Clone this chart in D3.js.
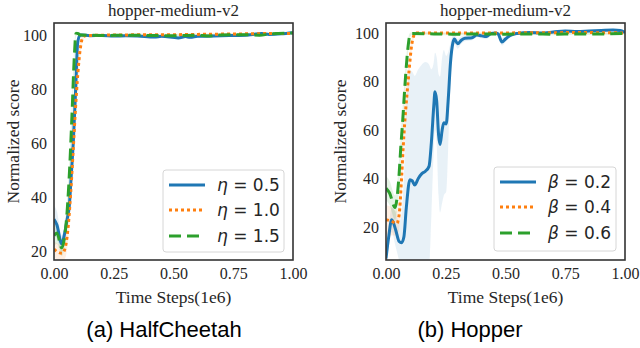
<!DOCTYPE html>
<html>
<head>
<meta charset="utf-8">
<script src="https://cdn.jsdelivr.net/npm/d3@7"></script>
<style>
  body { margin: 0; background: #fff; }
  svg { display: block; }
</style>
</head>
<body>
<script>
// ---- data ----
var xTicks = [0, 0.25, 0.5, 0.75, 1.0];
var yTicks = [20, 40, 60, 80, 100];
var panelTitles = ['hopper-medium-v2', 'hopper-medium-v2'];
var captions = ['(a) HalfCheetah', '(b) Hopper'];
var legendA = ['0.5', '1.0', '1.5'];
var legendB = ['0.2', '0.4', '0.6'];

// (a) eta = 0.5
var a1T = [0, 0.012, 0.032, 0.045, 0.055, 0.064, 0.072, 0.081, 0.091, 0.099, 0.108, 0.115, 0.15, 0.2, 0.25, 0.3, 0.35, 0.42, 0.45, 0.52, 0.55, 0.57, 0.6, 0.7, 0.8, 0.87, 0.9, 0.95, 1.0];
var a1Y = [32, 30, 23, 27, 32, 37, 48, 61, 81, 97, 99.8, 100, 99.7, 99.8, 99.6, 99.7, 99.6, 99.2, 99.5, 98.9, 99.4, 99.1, 99.5, 99.7, 99.9, 100.5, 100.2, 100.4, 100.8];
var a1S = [5, 5, 3, 3, 3, 3, 3, 3, 3, 2, 1, 0.5, 0.5, 0.5, 0.5, 0.5, 0.5, 0.5, 0.5, 0.5, 0.5, 0.5, 0.5, 0.5, 0.5, 0.6, 0.5, 0.5, 0.5];
// (a) eta = 1.0
var a2T = [0, 0.015, 0.035, 0.048, 0.06, 0.07, 0.08, 0.09, 0.1, 0.11, 0.12, 0.13, 0.2, 0.3, 0.4, 0.5, 0.6, 0.7, 0.8, 0.9, 1.0];
var a2Y = [21, 20, 19.5, 22, 30, 42, 57, 73, 86, 95, 99, 99.7, 99.9, 100, 100.1, 100.1, 100.2, 100.3, 100.4, 100.5, 100.5];
var a2S = [3, 3, 3, 4, 5, 6, 6, 6, 5, 3, 1, 0.5, 0.4, 0.4, 0.4, 0.4, 0.4, 0.4, 0.4, 0.4, 0.4];
// (a) eta = 1.5
var a3T = [0, 0.012, 0.032, 0.045, 0.055, 0.065, 0.075, 0.085, 0.092, 0.1, 0.11, 0.2, 0.3, 0.4, 0.5, 0.6, 0.64, 0.7, 0.8, 0.86, 0.9, 1.0];
var a3Y = [26, 27, 21.5, 26, 35, 50, 70, 92, 100.5, 100.5, 100, 99.8, 99.9, 99.8, 99.7, 99.9, 99.6, 100, 100.1, 99.9, 100.3, 100.7];
var a3S = [4, 4, 3, 4, 5, 5, 5, 4, 1, 0.6, 0.5, 0.4, 0.4, 0.4, 0.4, 0.4, 0.5, 0.4, 0.4, 0.5, 0.4, 0.4];

// (b) beta = 0.2
var b1T = [0, 0.01, 0.024, 0.04, 0.055, 0.065, 0.075, 0.085, 0.1, 0.11, 0.12, 0.135, 0.15, 0.165, 0.18, 0.19, 0.2, 0.205, 0.212, 0.22, 0.226, 0.235, 0.242, 0.252, 0.26, 0.27, 0.28, 0.286, 0.3, 0.315, 0.33, 0.36, 0.38, 0.4, 0.42, 0.44, 0.46, 0.47, 0.485, 0.5, 0.52, 0.55, 0.6, 0.65, 0.7, 0.75, 0.8, 0.85, 0.9, 0.95, 0.98, 1.0];
var b1Y = [7, 15, 23, 19, 14, 13.5, 16, 28, 39.5, 39, 37.3, 40, 42, 43, 45, 55, 70, 75.8, 72, 58, 54, 60, 63, 62.5, 72, 88, 96, 97.5, 95.5, 97, 97.8, 98, 99.2, 98.8, 98.5, 99.8, 100, 99.5, 96.3, 97.5, 99, 99.8, 100.2, 100, 100.4, 100.8, 100.6, 100.8, 101, 101.2, 101, 100.2];
var b1S = [3, 4, 5, 7, 8, 12, 25, 40, 45, 45, 45, 45, 45, 45, 42, 30, 18, 16, 18, 25, 28, 30, 30, 28, 20, 8, 3, 2, 2, 1.5, 1.2, 1, 1, 1, 1, 0.8, 0.7, 0.8, 1.5, 1.2, 0.8, 0.6, 0.5, 0.5, 0.5, 0.5, 0.5, 0.5, 0.5, 0.5, 0.5, 0.5];
// (b) beta = 0.4
var b2T = [0, 0.02, 0.045, 0.055, 0.065, 0.072, 0.079, 0.088, 0.097, 0.106, 0.115, 0.125, 0.2, 0.3, 0.4, 0.5, 0.6, 0.7, 0.8, 0.9, 1.0];
var b2Y = [23, 22.5, 21.5, 25, 40, 53, 64, 75, 85, 94, 98.5, 100, 100, 100, 100, 100, 100.1, 100.1, 100.2, 100.1, 100];
var b2S = [6, 6, 5, 6, 8, 8, 8, 7, 5, 3, 1.5, 0.6, 0.4, 0.4, 0.4, 0.4, 0.4, 0.4, 0.4, 0.4, 0.4];
// (b) beta = 0.6
var b3T = [0, 0.015, 0.038, 0.045, 0.055, 0.062, 0.07, 0.077, 0.084, 0.092, 0.1, 0.11, 0.2, 0.3, 0.4, 0.5, 0.6, 0.7, 0.8, 0.9, 1.0];
var b3Y = [36, 34, 28, 31, 42, 53, 64, 75, 85, 94, 99, 99.8, 99.6, 99.5, 99.6, 99.5, 99.6, 99.5, 99.6, 99.6, 99.8];
var b3S = [5, 5, 5, 5, 6, 6, 6, 5, 4, 3, 1, 0.5, 0.4, 0.4, 0.4, 0.4, 0.4, 0.4, 0.4, 0.4, 0.4];

var colors = ['#1f77b4', '#ff7f0e', '#2ca02c'];
var dashes = [null, '3,3', '12,6'];

// ---- layout ----
var width = 640, height = 348;
var svg = d3.select('body').append('svg')
    .attr('width', width)
    .attr('height', height);

var panels = [
  { left: 54, right: 293, top: 23, bottom: 260, yDomain: [17, 104.4],
    title: panelTitles[0], caption: captions[0], capX: 164, ylabX: 13,
    greek: '\u03b7', labels: legendA, leg: { x: 163, y: 170, w: 121, h: 82 },
    series: [[a1T, a1Y, a1S], [a2T, a2Y, a2S], [a3T, a3Y, a3S]] },
  { left: 386, right: 625, top: 23, bottom: 260, yDomain: [6.4, 104.1],
    title: panelTitles[1], caption: captions[1], capX: 470, ylabX: 340,
    greek: '\u03b2', labels: legendB, leg: { x: 494, y: 167, w: 122, h: 84 },
    series: [[b1T, b1Y, b1S], [b2T, b2Y, b2S], [b3T, b3Y, b3S]] }
];

var serif = '"Liberation Serif", "Times New Roman", serif';

panels.forEach(function(p, pi) {
  var x = d3.scaleLinear().domain([0, 1]).range([p.left, p.right]);
  var y = d3.scaleLinear().domain(p.yDomain).range([p.bottom, p.top]);
  var g = svg.append('g');

  var clipId = 'clip' + pi;
  svg.append('clipPath').attr('id', clipId)
    .append('rect')
    .attr('x', p.left).attr('y', p.top)
    .attr('width', p.right - p.left).attr('height', p.bottom - p.top);

  var plot = g.append('g').attr('clip-path', 'url(#' + clipId + ')');

  var area = d3.area()
      .x(function(d) { return x(d.t); })
      .y0(function(d) { return y(d.v - d.s); })
      .y1(function(d) { return y(d.v + d.s); })
      .curve(d3.curveMonotoneX);
  var line = d3.line()
      .x(function(d) { return x(d.t); })
      .y(function(d) { return y(d.v); })
      .curve(d3.curveMonotoneX);

  var rows = p.series.map(function(s) {
    return s[0].map(function(t, i) { return { t: t, v: s[1][i], s: s[2][i] }; });
  });

  rows.forEach(function(r, i) {
    plot.append('path').datum(r)
      .attr('d', area)
      .attr('fill', colors[i])
      .attr('fill-opacity', i == 0 && pi == 1 ? 0.1 : 0.12);
  });
  rows.forEach(function(r, i) {
    plot.append('path').datum(r)
      .attr('d', line)
      .attr('fill', 'none')
      .attr('stroke', colors[i])
      .attr('stroke-width', 3)
      .attr('stroke-dasharray', dashes[i]);
  });

  // axes
  var xAxis = d3.axisBottom(x).tickValues(xTicks).tickFormat(d3.format('.2f')).tickSize(0).tickPadding(8);
  var yAxis = d3.axisLeft(y).tickValues(yTicks).tickFormat(d3.format('d')).tickSize(0).tickPadding(7);

  g.append('g').attr('transform', 'translate(0,' + p.bottom + ')').call(xAxis)
    .call(function(a) { a.select('.domain').remove(); })
    .selectAll('text').style('font-family', serif).style('font-size', '16px').attr('fill', '#262626');
  g.append('g').attr('transform', 'translate(' + p.left + ',0)').call(yAxis)
    .call(function(a) { a.select('.domain').remove(); })
    .selectAll('text').style('font-family', serif).style('font-size', '16px').attr('fill', '#262626');

  // frame
  g.append('rect')
    .attr('x', p.left).attr('y', p.top)
    .attr('width', p.right - p.left).attr('height', p.bottom - p.top)
    .attr('fill', 'none').attr('stroke', '#333').attr('stroke-width', 1.6);

  // title + labels
  g.append('text')
    .attr('x', (p.left + p.right) / 2).attr('y', 16)
    .attr('text-anchor', 'middle')
    .style('font-family', serif).style('font-size', '17px').attr('fill', '#262626')
    .text(p.title);
  g.append('text')
    .attr('x', (p.left + p.right) / 2).attr('y', 303)
    .attr('text-anchor', 'middle')
    .style('font-family', serif).style('font-size', '17.5px').attr('fill', '#262626')
    .text('Time Steps(1e6)');
  g.append('text')
    .attr('transform', 'translate(' + (p.ylabX + 6) + ',' + ((p.top + p.bottom) / 2) + ') rotate(-90)')
    .attr('text-anchor', 'middle')
    .style('font-family', serif).style('font-size', '17.5px').attr('fill', '#262626')
    .text('Normalized score');
  g.append('text')
    .attr('x', p.capX).attr('y', 337)
    .attr('text-anchor', 'middle')
    .style('font-family', '"Liberation Sans", Arial, sans-serif').style('font-size', '22px').attr('fill', '#000')
    .text(p.caption);

  // legend
  var L = p.leg;
  g.append('rect')
    .attr('x', L.x).attr('y', L.y).attr('width', L.w).attr('height', L.h)
    .attr('rx', 3)
    .attr('fill', '#fff').attr('fill-opacity', 0.8)
    .attr('stroke', '#d6d6d6').attr('stroke-width', 1);
  var rowY = [L.y + 15, L.y + 40, L.y + 66];
  p.labels.forEach(function(lab, i) {
    g.append('line')
      .attr('x1', L.x + 6).attr('x2', L.x + 42)
      .attr('y1', rowY[i]).attr('y2', rowY[i])
      .attr('stroke', colors[i]).attr('stroke-width', 3)
      .attr('stroke-dasharray', dashes[i]);
    var t = g.append('text')
      .attr('x', L.x + 54).attr('y', rowY[i] + 6)
      .style('font-family', '"DejaVu Sans", sans-serif').style('font-size', '17px').attr('fill', '#262626');
    t.append('tspan').style('font-style', 'italic').text(p.greek);
    t.append('tspan').text(' = ' + lab);
  });
});
</script>
</body>
</html>
